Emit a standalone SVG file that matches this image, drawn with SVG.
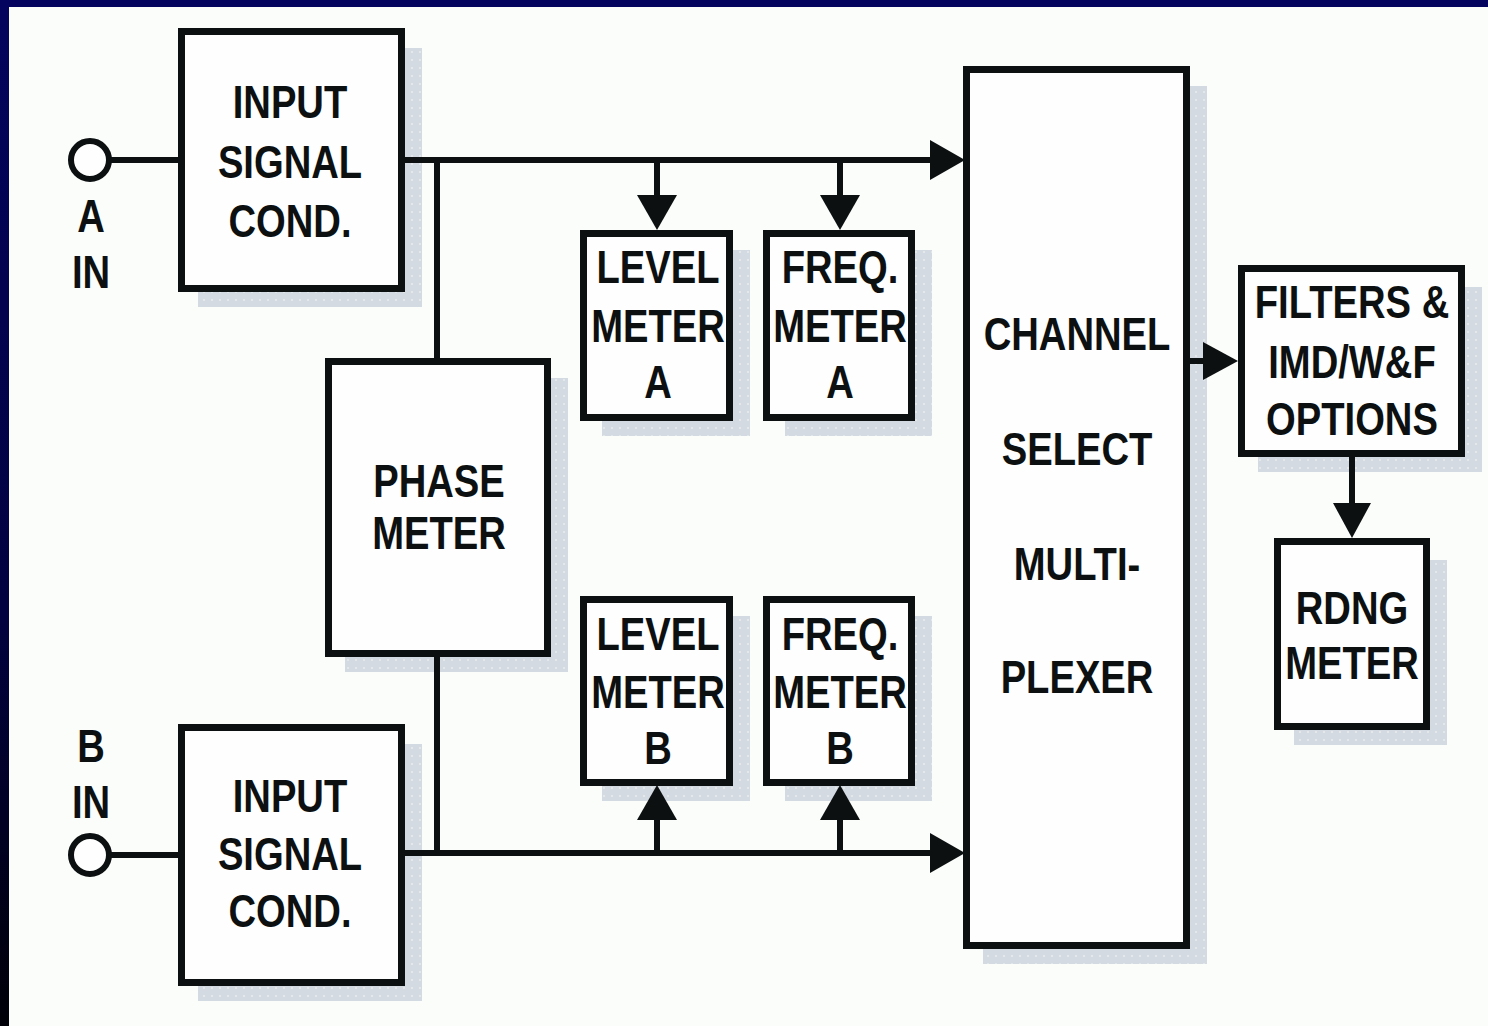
<svg xmlns="http://www.w3.org/2000/svg" width="1488" height="1026" viewBox="0 0 1488 1026">
<defs>
<linearGradient id="frame" x1="0" y1="0" x2="0" y2="1">
<stop offset="0" stop-color="#04045e"/>
<stop offset="0.6" stop-color="#020240"/>
<stop offset="1" stop-color="#000008"/>
</linearGradient>
<pattern id="dots" width="8" height="8" patternUnits="userSpaceOnUse">
<rect width="8" height="8" fill="#d3dae2"/>
<rect x="3" y="3" width="2" height="2" fill="#e3e7ea"/>
</pattern>
<marker id="ah" markerUnits="userSpaceOnUse" markerWidth="36" markerHeight="42" refX="0" refY="20" orient="auto" overflow="visible">
<path d="M0,0 L35,20 L0,40 Z" fill="#0d1011"/>
</marker>
<marker id="ahs" markerUnits="userSpaceOnUse" markerWidth="36" markerHeight="40" refX="0" refY="19" orient="auto" overflow="visible">
<path d="M0,0 L35,19 L0,38 Z" fill="#0d1011"/>
</marker>
</defs>
<style>
.box{fill:#fdfefd;stroke:#0d1011;stroke-width:7}
.sh{fill:url(#dots)}
.ln{fill:none;stroke:#0d1011;stroke-width:6}
.t{font-family:"Liberation Sans",Arial,sans-serif;font-weight:bold;font-size:46px;fill:#0d1011;text-anchor:middle}
</style>
<rect x="0" y="0" width="1488" height="1026" fill="url(#frame)"/>
<rect x="0" y="0" width="1488" height="7" fill="#04045e"/>
<rect x="9" y="7" width="1479" height="1019" fill="#fbfdfb"/>

<g id="inputA">
<rect class="sh" x="198" y="48" width="224" height="259"/>
<rect class="box" x="181.5" y="31.5" width="220" height="257"/>
<g transform="translate(290 0) scale(0.83 1)">
<text class="t" x="0" y="118">INPUT</text>
<text class="t" x="0" y="178">SIGNAL</text>
<text class="t" x="0" y="237">COND.</text>
</g>
</g>

<g id="inputB">
<rect class="sh" x="198" y="744" width="224" height="257"/>
<rect class="box" x="181.5" y="727.5" width="220" height="255"/>
<g transform="translate(290 0) scale(0.83 1)">
<text class="t" x="0" y="812">INPUT</text>
<text class="t" x="0" y="870">SIGNAL</text>
<text class="t" x="0" y="927">COND.</text>
</g>
</g>

<g id="termA">
<circle cx="90" cy="160" r="19" fill="#fdfefd" stroke="#0d1011" stroke-width="6"/>
<g transform="translate(91 0) scale(0.83 1)">
<text class="t" x="0" y="232">A</text>
<text class="t" x="0" y="288">IN</text>
</g>
</g>

<g id="termB">
<circle cx="90" cy="855" r="19" fill="#fdfefd" stroke="#0d1011" stroke-width="6"/>
<g transform="translate(91 0) scale(0.83 1)">
<text class="t" x="0" y="762">B</text>
<text class="t" x="0" y="818">IN</text>
</g>
</g>

<g id="phase">
<rect class="sh" x="345" y="378" width="223" height="294"/>
<rect class="box" x="328.5" y="361.5" width="219" height="292"/>
<g transform="translate(439 0) scale(0.83 1)">
<text class="t" x="0" y="497">PHASE</text>
<text class="t" x="0" y="549">METER</text>
</g>
</g>

<g id="levelA">
<rect class="sh" x="602" y="250" width="148" height="186"/>
<rect class="box" x="583.5" y="233.5" width="146" height="184"/>
<g transform="translate(658 0) scale(0.83 1)">
<text class="t" x="0" y="283">LEVEL</text>
<text class="t" x="0" y="342">METER</text>
<text class="t" x="0" y="398">A</text>
</g>
</g>

<g id="freqA">
<rect class="sh" x="785" y="250" width="147" height="186"/>
<rect class="box" x="766.5" y="233.5" width="145" height="184"/>
<g transform="translate(840 0) scale(0.83 1)">
<text class="t" x="0" y="283">FREQ.</text>
<text class="t" x="0" y="342">METER</text>
<text class="t" x="0" y="398">A</text>
</g>
</g>

<g id="levelB">
<rect class="sh" x="602" y="616" width="148" height="185"/>
<rect class="box" x="583.5" y="599.5" width="146" height="183"/>
<g transform="translate(658 0) scale(0.83 1)">
<text class="t" x="0" y="650">LEVEL</text>
<text class="t" x="0" y="708">METER</text>
<text class="t" x="0" y="764">B</text>
</g>
</g>

<g id="freqB">
<rect class="sh" x="785" y="616" width="147" height="185"/>
<rect class="box" x="766.5" y="599.5" width="145" height="183"/>
<g transform="translate(840 0) scale(0.83 1)">
<text class="t" x="0" y="650">FREQ.</text>
<text class="t" x="0" y="708">METER</text>
<text class="t" x="0" y="764">B</text>
</g>
</g>

<g id="channel">
<rect class="sh" x="983" y="86" width="224" height="878"/>
<rect class="box" x="966.5" y="69.5" width="220" height="876"/>
<g transform="translate(1077 0) scale(0.83 1)">
<text class="t" x="0" y="350">CHANNEL</text>
<text class="t" x="0" y="465">SELECT</text>
<text class="t" x="0" y="580">MULTI-</text>
<text class="t" x="0" y="693">PLEXER</text>
</g>
</g>

<g id="filters">
<rect class="sh" x="1258" y="287" width="224" height="185"/>
<rect class="box" x="1241.5" y="268.5" width="220" height="185"/>
<g transform="translate(1352 0) scale(0.83 1)">
<text class="t" x="0" y="318">FILTERS &amp;</text>
<text class="t" x="0" y="378">IMD/W&amp;F</text>
<text class="t" x="0" y="435">OPTIONS</text>
</g>
</g>

<g id="rdng">
<rect class="sh" x="1294" y="560" width="153" height="185"/>
<rect class="box" x="1277.5" y="541.5" width="149" height="185"/>
<g transform="translate(1352 0) scale(0.83 1)">
<text class="t" x="0" y="624">RDNG</text>
<text class="t" x="0" y="679">METER</text>
</g>
</g>

<g id="connectors">
<line class="ln" x1="109" y1="160" x2="178" y2="160"/>
<line class="ln" x1="109" y1="855" x2="178" y2="855"/>
<line class="ln" x1="405" y1="160" x2="930" y2="160" marker-end="url(#ah)"/>
<line class="ln" x1="405" y1="853" x2="930" y2="853" marker-end="url(#ah)"/>
<line class="ln" x1="437" y1="157" x2="437" y2="358"/>
<line class="ln" x1="437" y1="657" x2="437" y2="856"/>
<line class="ln" x1="657" y1="157" x2="657" y2="195" marker-end="url(#ah)"/>
<line class="ln" x1="840" y1="157" x2="840" y2="195" marker-end="url(#ah)"/>
<line class="ln" x1="657" y1="856" x2="657" y2="820" marker-end="url(#ah)"/>
<line class="ln" x1="840" y1="856" x2="840" y2="820" marker-end="url(#ah)"/>
<line class="ln" x1="1190" y1="361" x2="1203" y2="361" marker-end="url(#ahs)"/>
<line class="ln" x1="1352" y1="457" x2="1352" y2="503" marker-end="url(#ahs)"/>
</g>
</svg>
